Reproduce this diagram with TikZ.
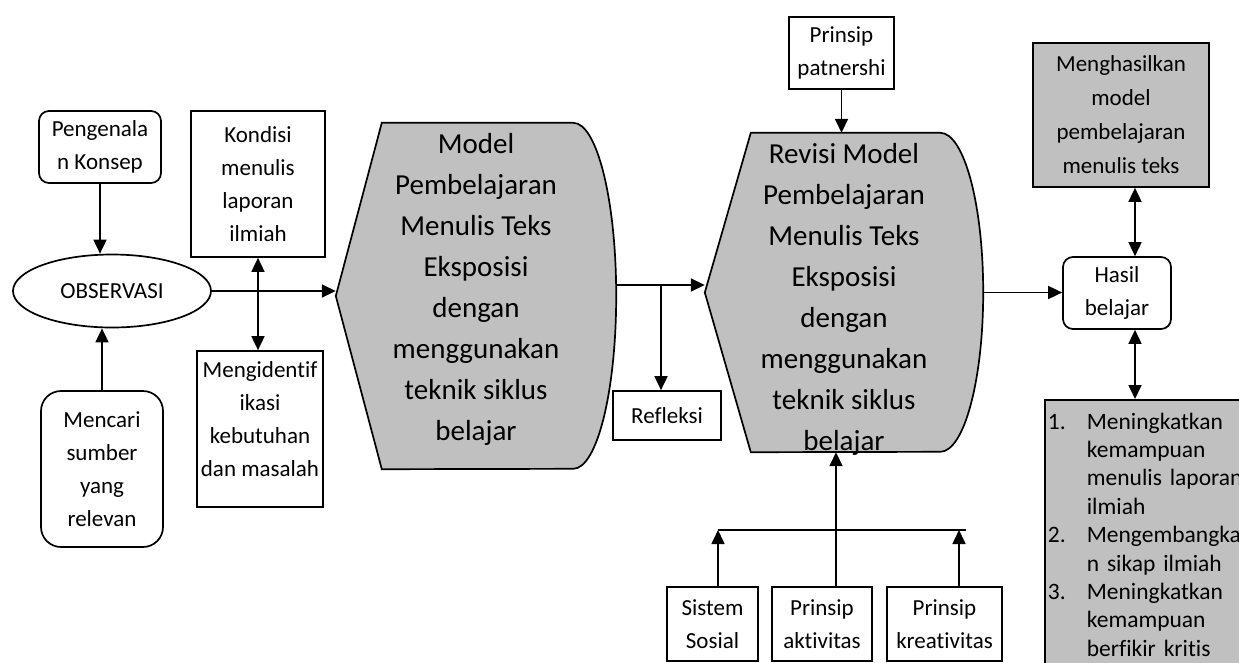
\documentclass[tikz,border=0pt]{standalone}
\usepackage{fontspec}
\setmainfont{Carlito}[Ligatures=NoCommon]
\usepackage{tikz}
\usetikzlibrary{arrows.meta, shapes.geometric, backgrounds}
\definecolor{kgrey}{HTML}{C0C0C0}

\tikzset{
  plainbox/.style={draw, line width=1.7pt, align=center, inner sep=3pt, font=\fontsize{23}{33}\selectfont},
  softbox/.style={plainbox, rounded corners=10pt},
  greybox/.style={plainbox, fill=kgrey},
  bigtext/.style={inner sep=0pt, align=center, font=\fontsize{29}{41}\selectfont},
  cutshape/.style={draw, line width=1.7pt, fill=kgrey},
  flow/.style={line width=1.7pt, ->},
  twoway/.style={line width=1.7pt, <->},
}

\begin{document}
\begin{tikzpicture}[x=1pt, y=-1pt, >={Triangle[length=14pt, width=13pt]}]
\useasboundingbox (0,0) rectangle (1239,662);
\clip (0,0) rectangle (1239,662);

% left column
\node[softbox, minimum width=122pt, minimum height=72pt] (konsep) at (100,147) {Pengenala\\n Konsep};
\node[plainbox, ellipse, inner sep=0pt, minimum width=198pt, minimum height=73pt] (obs) at (112,291) {OBSERVASI};
\node[softbox, rounded corners=20pt, minimum width=122pt, minimum height=156pt] (sumber) at (102,469) {Mencari\\sumber\\yang\\relevan};
\node[plainbox, minimum width=134pt, minimum height=146pt] (kondisi) at (258,184) {Kondisi\\menulis\\laporan\\ilmiah};
\node[plainbox, minimum width=126pt, minimum height=156pt] (identif) at (260,429) {};
\node[plainbox, draw=none, anchor=north] (identiftext) at ([yshift=-8pt]identif.north) {Mengidentif\\ikasi\\kebutuhan\\dan masalah};

% middle
\node[bigtext, text height=300pt, text depth=12pt, minimum width=280pt, minimum height=346pt] (model) at (476,296)
  {Model\\Pembelajaran\\Menulis Teks\\Eksposisi\\dengan\\menggunakan\\teknik siklus\\belajar};
\node[plainbox, minimum width=108pt, minimum height=49pt] (refleksi) at (667,415.5) {Refleksi};
\node[bigtext, text height=316pt, text depth=1pt, minimum width=278pt, minimum height=319pt] (revisi) at (844,292.5)
  {Revisi Model\\Pembelajaran\\Menulis Teks\\Eksposisi\\dengan\\menggunakan\\teknik siklus\\belajar};
\node[plainbox, minimum width=105pt, minimum height=72pt] (patner) at (841.5,53) {Prinsip\\patnershi};
\node[plainbox, minimum width=91pt, minimum height=74pt] (sosial) at (712.5,624) {Sistem\\Sosial};
\node[plainbox, minimum width=100pt, minimum height=74pt] (aktif) at (822,624) {Prinsip\\aktivitas};
\node[plainbox, minimum width=115pt, minimum height=74pt] (kreatif) at (944.5,624) {Prinsip\\kreativitas};

% right column
\node[greybox, minimum width=176pt, minimum height=144pt, font=\fontsize{23}{34}\selectfont] (hasilkan) at (1121,115)
  {Menghasilkan\\model\\pembelajaran\\menulis teks};
\node[softbox, minimum width=108pt, minimum height=72pt] (hasil) at (1117,293) {Hasil\\belajar};
\node[greybox, anchor=north west, align=left, text width=215pt, inner xsep=3pt, inner ysep=13pt,
  font=\fontsize{23.5}{28.4}\selectfont] (tujuan) at (1044,399)
  {\makebox[39pt][l]{1.}Meningkatkan\\
   \hspace*{39pt}kemampuan\\
   \hspace*{39pt}menulis laporan\\
   \hspace*{39pt}ilmiah\\
   \makebox[39pt][l]{2.}Mengembangka\\
   \hspace*{39pt}n sikap ilmiah\\
   \makebox[39pt][l]{3.}Meningkatkan\\
   \hspace*{39pt}kemampuan\\
   \hspace*{39pt}berfikir kritis};

\begin{scope}[on background layer]
\draw[cutshape] (model.west) -- ([xshift=46pt]model.north west) -- ([xshift=-43pt]model.north east)
  arc[start angle=90, end angle=-90, x radius=43pt, y radius=173pt] -- ([xshift=46pt]model.south west) -- cycle;
\draw[cutshape] (revisi.west) -- ([xshift=46pt]revisi.north west) -- ([xshift=-43pt]revisi.north east)
  arc[start angle=90, end angle=-90, x radius=43pt, y radius=159.5pt] -- ([xshift=46pt]revisi.south west) -- cycle;
\end{scope}

% connectors
\draw[flow] (konsep.south) -- (konsep.south |- obs.north);
\draw[flow] (sumber.north) -- (sumber.north |- obs.south);
\draw[twoway] (kondisi.south) -- (kondisi.south |- identif.north);
\draw[flow] (obs.east) -- (obs.east -| model.west);
\coordinate (split) at ([yshift=11pt]model.east);
\draw[flow] (split) -- (split -| revisi.west);
\draw[flow] ([xshift=-6pt]refleksi.north |- split) -- ([xshift=-6pt]refleksi.north);
\draw[flow] (patner.south) -- (patner.south |- revisi.north);
\coordinate (bus) at (966,530);
\draw[line width=1.7pt] ([xshift=5.5pt]sosial.north |- bus) -- (bus);
\draw[flow] ([xshift=5.5pt]sosial.north) -- ([xshift=5.5pt]sosial.north |- bus);
\draw[flow] ([xshift=14.5pt]kreatif.north) -- ([xshift=14.5pt]kreatif.north |- bus);
\draw[flow] ([xshift=14pt]aktif.north) -- ([xshift=14pt]aktif.north |- revisi.south);
\draw[flow] (revisi.east) -- (revisi.east -| hasil.west);
\draw[twoway] ([xshift=18pt]hasil.north) -- ([xshift=18pt]hasil.north |- hasilkan.south);
\draw[twoway] ([xshift=18pt]hasil.south) -- ([xshift=18pt]hasil.south |- tujuan.north);
\end{tikzpicture}
\end{document}
